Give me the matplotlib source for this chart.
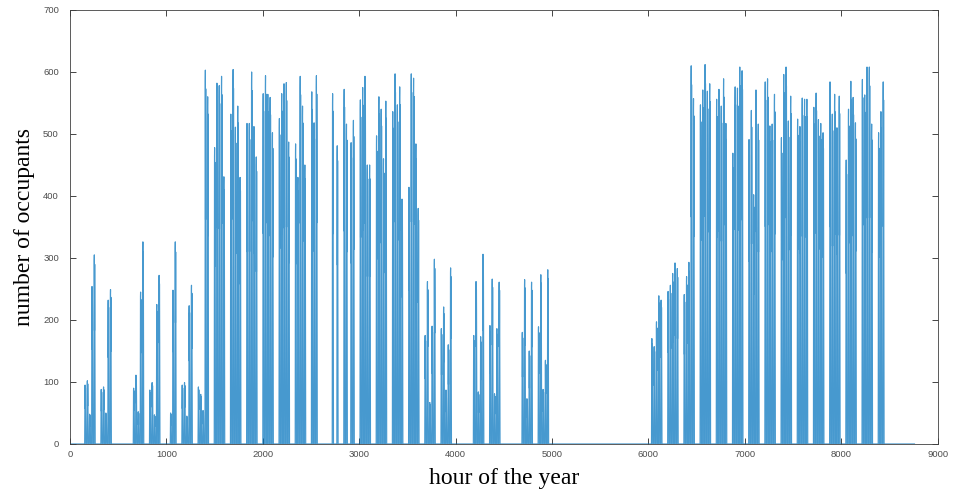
import numpy as np
import matplotlib
matplotlib.use("Agg")
import matplotlib.pyplot as plt

# ---- data ----
# Work weeks start on day index 6 (0-based day of year); 5 working days each.
first_workday = 6

# daily peak occupancy for each working week (Mon..Fri)
winter_peaks = [
    [95, 102, 48, 254, 305],
    [88, 92, 50, 232, 249],
    [0, 0, 0, 0, 0],
    [90, 111, 52, 245, 326],
    [87, 99, 47, 225, 272],
    [0, 0, 50, 248, 326],
    [95, 99, 45, 223, 256],
]
spring_peaks = [
    [92, 80, 54, 603, 560],
    [478, 582, 578, 593, 431],
    [532, 604, 511, 545, 430],
    [517, 517, 600, 512, 463],
    [565, 594, 564, 559, 502],
    [525, 565, 581, 583, 487],
    [484, 430, 593, 545, 450],
    [568, 518, 594, 0, 0],
    [0, 0, 565, 0, 481],
    [572, 516, 0, 486, 522],
    [555, 575, 593, 450, 450],
    [497, 560, 540, 460, 553],
    [536, 597, 547, 576, 395],
    [414, 597, 590, 484, 380],
]
summer_peaks = [
    [175, 262, 67, 190, 298],
    [186, 221, 87, 160, 284],
    [0, 0, 0, 0, 0],
    [175, 262, 84, 173, 306],
    [191, 266, 81, 186, 261],
    [0, 0, 0, 0, 0],
    [180, 265, 73, 150, 261],
    [189, 273, 88, 135, 281],
    [0, 0, 0, 0, 0],
    [0, 0, 0, 0, 0],
    [0, 0, 0, 0, 0],
    [0, 0, 0, 0, 0],
    [0, 0, 0, 0, 0],
    [0, 0, 0, 0, 0],
]
autumn_peaks = [
    [170, 157, 197, 239, 232],
    [246, 256, 275, 292, 283],
    [241, 270, 293, 610, 557],
    [547, 571, 612, 569, 581],
    [556, 572, 545, 589, 517],
    [469, 576, 574, 608, 602],
    [491, 538, 402, 571, 516],
    [584, 589, 513, 516, 564],
    [494, 596, 608, 521, 561],
    [524, 512, 558, 556, 556],
    [543, 566, 523, 517, 502],
    [584, 532, 564, 510, 561],
    [458, 540, 585, 559, 518],
    [588, 563, 608, 608, 516],
    [502, 536, 584, 0, 0],
]

# share of the daily peak present in each hour of a working day (hours 0..23)
hour_profile = [0, 0, 0, 0, 0, 0, 0, 0,
                0.45, 0.85, 0.97, 1.0, 0.78, 0.6, 0.92, 0.95, 0.83, 0.55, 0.2,
                0, 0, 0, 0, 0]

hours_in_year = 8760
x_ticks = [0, 1000, 2000, 3000, 4000, 5000, 6000, 7000, 8000, 9000]
y_ticks = [0, 100, 200, 300, 400, 500, 600, 700]

# ---- build hourly series from the daily peaks ----
weeks = winter_peaks + spring_peaks + summer_peaks + autumn_peaks
day_peak = np.zeros(365)
for k, wk in enumerate(weeks):
    for j, v in enumerate(wk):
        day_peak[first_workday + 7 * k + j] = v
hours = np.arange(1, hours_in_year + 1)
occupants = (day_peak[:, None] * np.array(hour_profile)[None, :]).ravel()

# ---- plot ----
fig = plt.figure(figsize=(9.54, 4.92), dpi=100)
ax = fig.add_axes([0.0734, 0.0976, 0.9094, 0.8821])
ax.plot(hours, occupants, color='#0072BD', linewidth=0.85, alpha=0.72)
ax.set_xlim(0, 9000)
ax.set_ylim(0, 700)
ax.set_xticks(x_ticks)
ax.set_yticks(y_ticks)
ax.tick_params(direction='in', top=True, right=True, length=4, width=0.6,
               colors='#262626', labelcolor='#4d4d4d', labelsize=6.8)
ax.tick_params(axis='y', pad=8)
ax.tick_params(axis='x', pad=4)
for lab in ax.get_xticklabels() + ax.get_yticklabels():
    lab.set_fontfamily('Liberation Sans')
for s in ax.spines.values():
    s.set_linewidth(0.6)
    s.set_color('#404040')
ax.set_xlabel('hour of the year', fontfamily='Liberation Serif', fontsize=17,
              labelpad=7)
ax.set_ylabel('number of occupants', fontfamily='Liberation Serif', fontsize=17,
              labelpad=6)
fig.savefig('out.png', dpi=100)
